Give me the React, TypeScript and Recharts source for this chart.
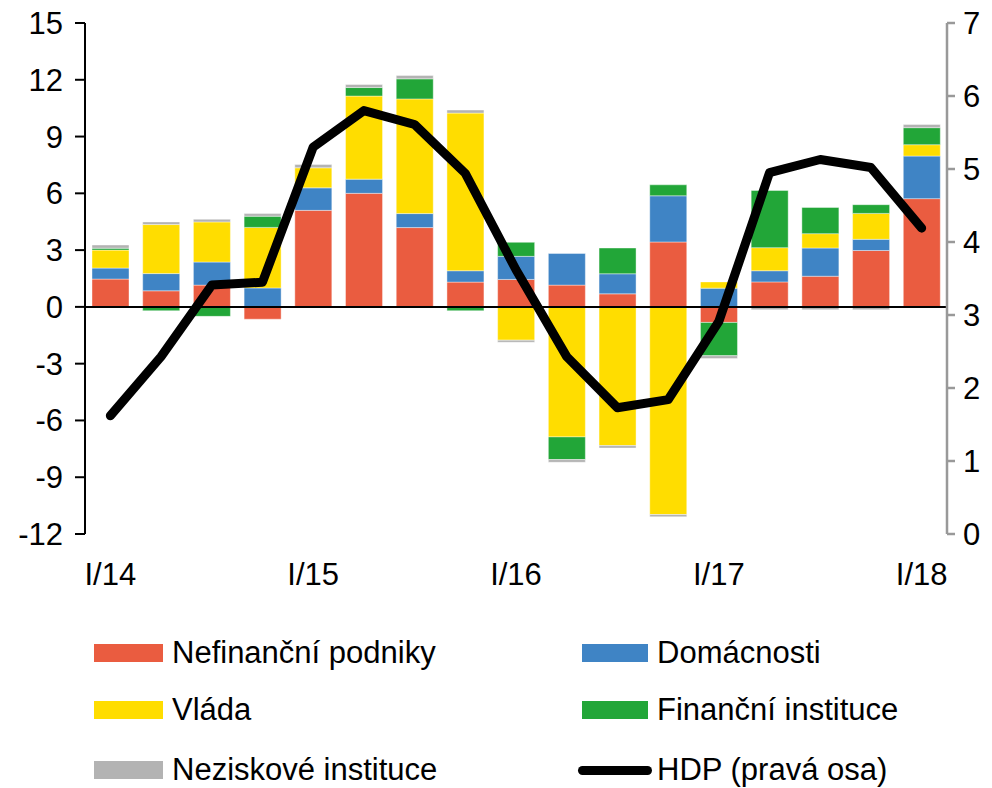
import React from 'react';
import { ComposedChart, Bar, Line, XAxis, YAxis, ReferenceLine } from 'recharts';

const quarters = [
  'I/14', 'II/14', 'III/14', 'IV/14',
  'I/15', 'II/15', 'III/15', 'IV/15',
  'I/16', 'II/16', 'III/16', 'IV/16',
  'I/17', 'II/17', 'III/17', 'IV/17',
  'I/18',
];

const nefinancni = [1.47, 0.85, 1.15, -0.65, 5.1, 6.0, 4.19, 1.31, 1.45, 1.15, 0.69, 3.43, -0.82, 1.32, 1.62, 2.98, 5.72];
const domacnosti = [0.58, 0.91, 1.22, 1.0, 1.19, 0.75, 0.74, 0.6, 1.22, 1.67, 1.06, 2.44, 0.99, 0.59, 1.49, 0.59, 2.25];
const vlada = [0.95, 2.59, 2.12, 3.2, 1.06, 4.39, 6.06, 8.33, -1.76, -6.87, -7.33, -10.97, 0.33, 1.22, 0.76, 1.37, 0.6];
const financni = [0.1, -0.2, -0.5, 0.59, 0, 0.45, 1.06, -0.2, 0.74, -1.2, 1.36, 0.58, -1.76, 3.02, 1.38, 0.46, 0.9];
const neziskove = [0.17, 0.14, 0.14, 0.14, 0.17, 0.16, 0.18, 0.16, -0.11, -0.14, -0.13, -0.12, -0.15, -0.15, -0.15, -0.15, 0.17];
const hdp = [1.62, 2.43, 3.41, 3.45, 5.3, 5.8, 5.61, 4.94, 3.62, 2.43, 1.73, 1.84, 2.91, 4.95, 5.13, 5.02, 4.19];

const leftTicks = [-12, -9, -6, -3, 0, 3, 6, 9, 12, 15];
const rightTicks = [0, 1, 2, 3, 4, 5, 6, 7];

const data = quarters.map((q, i) => ({
  q,
  nefinancni: nefinancni[i],
  domacnosti: domacnosti[i],
  vlada: vlada[i],
  financni: financni[i],
  neziskove: neziskove[i],
  hdp: hdp[i],
}));

const FONT = '"Liberation Sans", Arial, sans-serif';
const tickStyle = { fill: '#000', fontSize: 31, fontFamily: FONT };

const series = [
  { key: 'nefinancni', name: 'Nefinanční podniky', color: '#EA5C40' },
  { key: 'domacnosti', name: 'Domácnosti', color: '#3F84C5' },
  { key: 'vlada', name: 'Vláda', color: '#FFDD00' },
  { key: 'financni', name: 'Finanční instituce', color: '#22A638' },
  { key: 'neziskove', name: 'Neziskové instituce', color: '#B3B3B3' },
];

const legendRows = [
  [series[0], series[1]],
  [series[2], series[3]],
  [series[4], null],
];

const rowY = [653, 710, 770];

const App = () => {
  return (
    <div style={{ position: 'absolute', left: 0, top: 0, width: 992, height: 788, background: '#fff', fontFamily: FONT }}>
      <ComposedChart
        width={992}
        height={600}
        data={data}
        stackOffset="sign"
        barSize={37}
        margin={{ top: 23, right: 0, left: 0, bottom: 0 }}
      >
        <XAxis
          dataKey="q"
          interval={3}
          axisLine={false}
          tickLine={false}
          tickSize={0}
          tickMargin={29}
          height={66}
          tick={tickStyle}
        />
        <YAxis
          yAxisId="left"
          width={85}
          domain={[-12, 15]}
          ticks={leftTicks}
          interval={0}
          tickSize={10}
          tickMargin={12}
          axisLine={{ stroke: '#000', strokeWidth: 2 }}
          tickLine={{ stroke: '#000', strokeWidth: 2 }}
          tick={tickStyle}
        />
        <YAxis
          yAxisId="right"
          orientation="right"
          width={45}
          domain={[0, 7]}
          ticks={rightTicks}
          interval={0}
          tickSize={8}
          tickMargin={8}
          axisLine={{ stroke: '#999', strokeWidth: 2.5 }}
          tickLine={{ stroke: '#999', strokeWidth: 2.5 }}
          tick={tickStyle}
        />
        {series.map((s) => (
          <Bar
            key={s.key}
            yAxisId="left"
            dataKey={s.key}
            stackId="a"
            fill={s.color}
            stroke="#ffffff"
            strokeOpacity={0.4}
            strokeWidth={1}
            isAnimationActive={false}
          />
        ))}
        <ReferenceLine yAxisId="left" y={0} stroke="#000" strokeWidth={2} />
        <Line
          yAxisId="right"
          dataKey="hdp"
          type="linear"
          stroke="#000"
          strokeWidth={9}
          strokeLinejoin="round"
          strokeLinecap="round"
          dot={false}
          isAnimationActive={false}
        />
      </ComposedChart>
      {legendRows.map((row, r) =>
        row.map((s, c) => {
          const sx = c === 0 ? 94 : 582;
          const tx = c === 0 ? 172 : 657;
          if (!s) {
            return (
              <React.Fragment key={`hdp`}>
                <div
                  style={{
                    position: 'absolute',
                    left: 578,
                    top: rowY[r] - 4.5,
                    width: 74,
                    height: 9,
                    borderRadius: 4.5,
                    background: '#000',
                  }}
                />
                <div style={{ position: 'absolute', left: tx, top: rowY[r] - 18, fontSize: 31, lineHeight: '36px', whiteSpace: 'nowrap' }}>
                  HDP (pravá osa)
                </div>
              </React.Fragment>
            );
          }
          return (
            <React.Fragment key={s.key}>
              <div
                style={{
                  position: 'absolute',
                  left: sx,
                  top: rowY[r] - 9,
                  width: c === 0 ? 69 : 66,
                  height: 18,
                  background: s.color,
                }}
              />
              <div style={{ position: 'absolute', left: tx, top: rowY[r] - 18, fontSize: 31, lineHeight: '36px', whiteSpace: 'nowrap' }}>
                {s.name}
              </div>
            </React.Fragment>
          );
        })
      )}
    </div>
  );
};

export default App;
